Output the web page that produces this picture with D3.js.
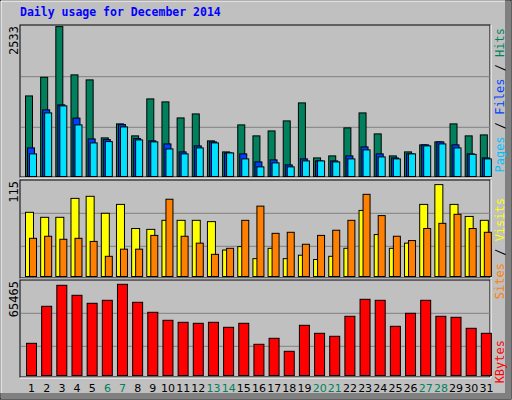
<!DOCTYPE html>
<html><head><meta charset="utf-8">
<script src="https://cdn.jsdelivr.net/npm/d3@7"></script>
<style>body{margin:0;background:#fff}svg{display:block}</style>
</head><body>
<script>
const days = d3.range(1,32);
const weekends = [6,7,13,14,20,21,27,28];
const hits  = [1370,1683,2533,1723,1639,666,901,700,1320,1270,1001,1068,616,431,884,700,783,951,1253,330,364,834,1085,733,364,431,549,599,901,700,716];
const files = [498,1136,1220,998,649,637,889,654,616,565,431,532,599,414,398,263,297,213,314,280,280,364,515,398,330,398,549,599,549,398,330];
const pages = [398,1085,1203,884,582,604,850,632,599,481,398,498,582,414,314,180,247,180,280,280,263,314,465,347,314,398,532,565,498,390,314];
const visits= [77.8,72,72,94,96.4,76.7,87,59,58,68.5,68.5,68.5,67,34,38,24,36,24,28,23,26.7,36,80,52,36,42,87,110,87,73,68.5];
const sites = [47.6,50,46.5,47.6,44,26.7,35,35,51,93,50,42,29,36,68.5,85,53.4,54.6,40.7,51,57,68.5,98.7,74,50,45,59,65,75.5,59,54.6];
const kbytes= [23800,48270,62160,55550,50260,52240,62820,50920,44310,39020,37690,37030,37690,34390,37030,23150,27110,18520,35710,30420,28440,41660,52900,52240,35050,43650,52240,41660,41000,33730,30420];
const maxHits=2533, maxSites=115, maxK=65465;

const W=512,H=400;
const svg=d3.select("body").append("svg").attr("width",W).attr("height",H);
svg.append("rect").attr("width",W).attr("height",H).attr("fill","#c0c0c0");
// 3D frame
svg.append("rect").attr("x",0).attr("y",0).attr("width",W-1).attr("height",H-1).attr("fill","none").attr("stroke","#000");
svg.append("rect").attr("x",505).attr("y",1).attr("width",6).attr("height",398).attr("fill","#808080");
svg.append("rect").attr("x",1).attr("y",393).attr("width",510).attr("height",6).attr("fill","#808080");
svg.append("line").attr("x1",1).attr("x2",1).attr("y1",1).attr("y2",393).attr("stroke","#fff");
svg.append("line").attr("x1",1).attr("x2",505).attr("y1",1).attr("y2",1).attr("stroke","#fff");

svg.append("text").attr("x",20).attr("y",16).text("Daily usage for December 2014")
  .attr("font-family","DejaVu Sans Mono").attr("font-weight","bold").attr("font-size",11.5).attr("fill","#0000ff");

const x=d3.scaleBand().domain(days).range([20,490]);
const mono="DejaVu Sans Mono";

function panel(y0,y1,grid0,grid1){
  svg.append("rect").attr("x",20).attr("y",y0).attr("width",470).attr("height",y1-y0).attr("fill","#c0c0c0").attr("stroke","#000");
  svg.append("line").attr("x1",491).attr("x2",491).attr("y1",y0).attr("y2",y1+1).attr("stroke","#fff");
  svg.append("line").attr("x1",20).attr("x2",491).attr("y1",y1+1).attr("y2",y1+1).attr("stroke","#fff");
  [grid0,grid1].forEach(g=>svg.append("line").attr("x1",21).attr("x2",490).attr("y1",g).attr("y2",g).attr("stroke","#808080"));
}
panel(25,177,76.7,127.3);
panel(180,278,213.3,246.3);
panel(280,377,313.3,346.3);

const yTop=d3.scaleLinear().domain([0,maxHits]).range([177.6,26.6]);
const yMid=d3.scaleLinear().domain([0,maxSites]).range([279.3,180.3]);
const yBot=d3.scaleLinear().domain([0,maxK]).range([379.3,280.3]);

function bars(data,y,off,w,color,bottom){
  svg.append("g").selectAll("rect").data(data).join("rect")
    .attr("x",(d,i)=>x(days[i])+off).attr("y",d=>Math.min(y(d),bottom-1))
    .attr("width",w).attr("height",d=>Math.max(1,bottom-Math.min(y(d),bottom-1)))
    .attr("fill",color).attr("stroke","#000").attr("stroke-width",1);
}
bars(hits,yTop,5.5,7,"#00805c",176.5);
bars(files,yTop,7.5,7,"#0040ff",176.5);
bars(pages,yTop,9.5,7,"#00e0ff",176.5);
bars(visits,yMid,5.5,8,"#ffff00",276.5);
bars(sites,yMid,9.5,7,"#ff8000",276.5);
bars(kbytes,yBot,6.5,10,"#ff0000",375.5);

function vlabel(xx,yy,parts,anchor){
  const t=svg.append("text").attr("transform",`translate(${xx},${yy}) rotate(-90)`)
    .attr("font-family",mono).attr("font-size",12).attr("text-anchor",anchor);
  parts.forEach(p=>t.append("tspan").text(p[0]).attr("fill",p[1]));
}
vlabel(18,26,[[String(maxHits),"#000"]],"end");
vlabel(18,181,[[String(maxSites),"#000"]],"end");
vlabel(18,281,[[String(maxK),"#000"]],"end");
vlabel(504,28,[["Pages","#00c0ff"],[" / ","#000"],["Files","#0040ff"],[" / ","#000"],["Hits","#00805c"]],"end");
vlabel(504,198,[["Sites","#ff8000"],[" / ","#000"],["Visits","#ffff00"]],"end");
vlabel(504,340,[["KBytes","#ff0000"]],"end");

svg.append("g").selectAll("text").data(days).join("text")
  .attr("x",d=>x(d)+x.bandwidth()/2+4).attr("y",392).attr("text-anchor","middle")
  .attr("font-family","DejaVu Sans").attr("font-size",11)
  .attr("fill",d=>weekends.includes(d)?"#00805c":"#000").text(d=>d);
</script>
</body></html>
